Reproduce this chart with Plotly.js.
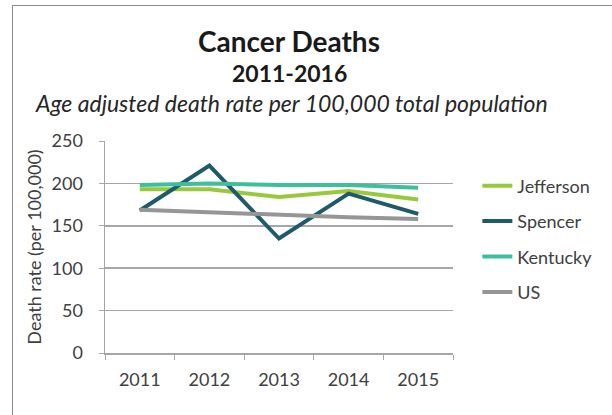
<!DOCTYPE html>
<html><head><meta charset="utf-8">
<script src="https://cdn.plot.ly/plotly-3.0.1.min.js"></script>
<style>
body{margin:0;padding:0;background:#fff;}
#wrap{position:relative;width:612px;height:415px;overflow:hidden;}
#frame{position:absolute;left:12px;top:5px;width:700px;height:500px;border:1.5px solid #8c8c8c;box-sizing:border-box;pointer-events:none;}
#chart{position:absolute;left:0;top:0;width:612px;height:415px;}
</style></head>
<body><div id="wrap"><div id="chart"></div><div id="frame"></div></div>
<script>
const years = ['2011','2012','2013','2014','2015'];
const jefferson = [193, 193, 184, 191, 181];
const spencer = [168, 221, 135, 188, 164];
const kentucky = [198, 200, 198, 198, 195];
const us = [169, 166, 162, 160, 158];
const seriesNames = ['Jefferson','Spencer','Kentucky','US'];
const seriesColors = ['#98c93c','#1f5a6b','#3dbf9e','#969696'];
const seriesData = [jefferson, spencer, kentucky, us];

const FONT = 'Lato, "Open Sans", sans-serif';
const traces = seriesData.map((d,i)=>({
  x: years, y: d, type:'scatter', mode:'lines', name: seriesNames[i],
  legendgroup: 'g'+i,
  line:{color: seriesColors[i], width:4}
}));

const layout = {
  width:612, height:415,
  margin:{l:105, r:159, t:141, b:62},
  paper_bgcolor:'#fff', plot_bgcolor:'#fff',
  font:{family:FONT, color:'#404040', size:18},
  showlegend:true,
  legend:{x:1.07, y:0.875, xanchor:'left', yanchor:'top', tracegroupgap:9,
    font:{size:18, color:'#404040'}, bgcolor:'rgba(0,0,0,0)'},
  xaxis:{type:'category', range:[-0.5,4.5], tickson:'boundaries', ticks:'outside', ticklen:5, tickcolor:'#a6a6a6',
    showline:true, linecolor:'#a6a6a6', linewidth:1.5, showgrid:false, zeroline:false,
    ticklabelstandoff:10,
    tickfont:{size:18, color:'#404040'}, fixedrange:true},
  yaxis:{range:[0,250], dtick:50, ticks:'outside', ticklen:5, tickcolor:'#a6a6a6',
    showline:true, linecolor:'#a6a6a6', linewidth:1.5, gridcolor:'#a6a6a6', gridwidth:1.5,
    zeroline:false, ticklabelstandoff:12, tickfont:{size:18, color:'#404040'},
    title:{text:'Death rate (per 100,000)', font:{size:18, color:'#404040'}, standoff:5}},
  annotations:[
    {text:'<b>Cancer Deaths</b>', xref:'paper', yref:'paper', x:0.53, y:1.47, xanchor:'center', yanchor:'middle', showarrow:false, font:{size:28, color:'#1a1a1a', family:FONT}},
    {text:'<b>2011-2016</b>', xref:'paper', yref:'paper', x:0.53, y:1.32, xanchor:'center', yanchor:'middle', showarrow:false, font:{size:23, color:'#1a1a1a', family:FONT}},
    {text:'<i>Age adjusted death rate per 100,000 total population</i>', xref:'paper', yref:'paper', x:0.535, y:1.18, xanchor:'center', yanchor:'middle', showarrow:false, font:{size:23, color:'#262626', family:FONT}}
  ]
};
Plotly.newPlot('chart', traces, layout, {displayModeBar:false, staticPlot:true});
</script></body></html>
